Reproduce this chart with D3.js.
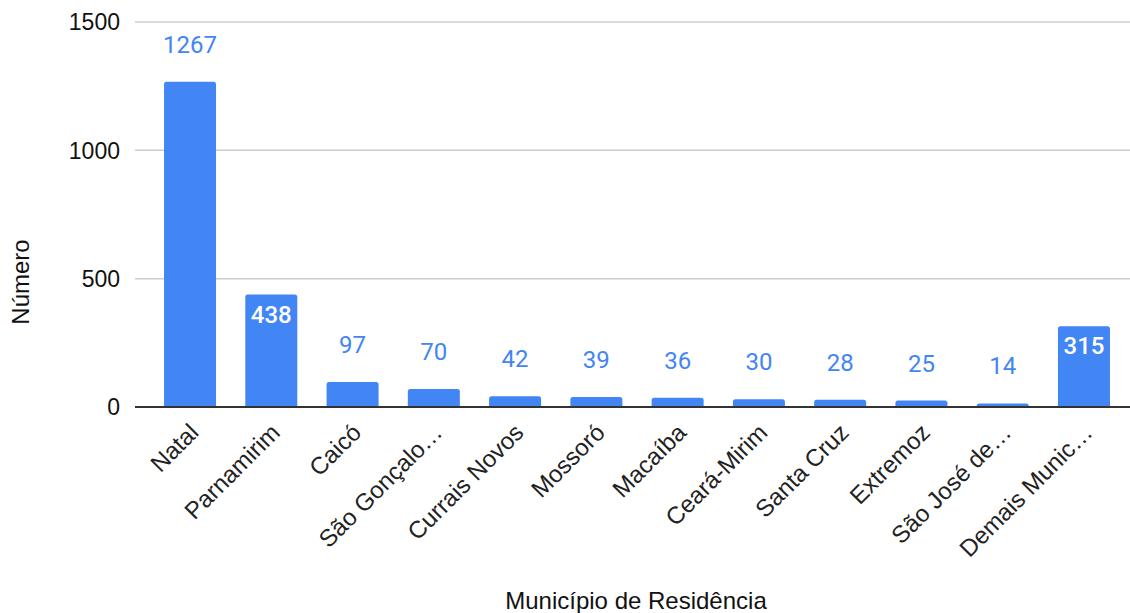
<!DOCTYPE html>
<html>
<head>
<meta charset="utf-8">
<script src="https://cdn.jsdelivr.net/npm/d3@7"></script>
<style>
  html, body { margin: 0; padding: 0; background: #fff; }
  svg { display: block; }
</style>
</head>
<body>
<svg id="chart" width="1130" height="613"></svg>
<script>
// Casos por município de residência
const municipios = [
  "Natal", "Parnamirim", "Caicó", "São Gonçalo do Amarante", "Currais Novos",
  "Mossoró", "Macaíba", "Ceará-Mirim", "Santa Cruz", "Extremoz",
  "São José de Mipibu", "Demais Municípios"
];
const rotulos = [
  "Natal", "Parnamirim", "Caicó", "São Gonçalo…", "Currais Novos",
  "Mossoró", "Macaíba", "Ceará-Mirim", "Santa Cruz", "Extremoz",
  "São José de…", "Demais Munic…"
];
const numeros = [1267, 438, 97, 70, 42, 39, 36, 30, 28, 25, 14, 315];
const yTicks = [0, 500, 1000, 1500];
// bars whose value label is drawn inside the bar
const rotuloInterno = ["Parnamirim", "Demais Municípios"];

const data = municipios.map((m, i) => ({ nome: m, rotulo: rotulos[i], valor: numeros[i] }));

const svg = d3.select("#chart");
const plotLeft = 135, plotRight = 1130, plotTop = 22, plotBottom = 407;
const sans = "Liberation Sans, Arial, Helvetica, sans-serif";

const x = d3.scaleBand()
  .domain(municipios)
  .range([149.4, 1124.6])
  .paddingInner(0.36)
  .paddingOuter(0.18);

const y = d3.scaleLinear().domain([0, 1500]).range([plotBottom, plotTop]);

// gridlines
svg.append("g")
  .selectAll("line")
  .data(yTicks.filter(t => t > 0))
  .join("line")
  .attr("x1", plotLeft).attr("x2", plotRight)
  .attr("y1", d => y(d)).attr("y2", d => y(d))
  .attr("stroke", "#cccccc").attr("stroke-width", 1.5);

// y tick labels
svg.append("g")
  .selectAll("text")
  .data(yTicks)
  .join("text")
  .attr("x", 120)
  .attr("y", d => y(d))
  .attr("dy", "0.36em")
  .attr("text-anchor", "end")
  .attr("font-family", sans)
  .attr("font-size", 23)
  .attr("fill", "#111")
  .text(d => d);

// bars with rounded top corners
const r = 2.5;
function barPath(d) {
  const x0 = x(d.nome), w = x.bandwidth(), y0 = y(d.valor), yb = y(0);
  const rr = Math.min(r, (yb - y0));
  return `M${x0},${yb} L${x0},${y0 + rr} Q${x0},${y0} ${x0 + rr},${y0} ` +
         `L${x0 + w - rr},${y0} Q${x0 + w},${y0} ${x0 + w},${y0 + rr} L${x0 + w},${yb} Z`;
}
svg.append("g")
  .selectAll("path")
  .data(data)
  .join("path")
  .attr("d", barPath)
  .attr("fill", "#4285f4");

// baseline
svg.append("line")
  .attr("x1", plotLeft).attr("x2", plotRight)
  .attr("y1", y(0)).attr("y2", y(0))
  .attr("stroke", "#333333").attr("stroke-width", 2);

// value labels
svg.append("g")
  .selectAll("text")
  .data(data)
  .join("text")
  .attr("x", d => x(d.nome) + x.bandwidth() / 2)
  .attr("y", d => rotuloInterno.includes(d.nome) ? y(d.valor) + 28 : y(d.valor) - 29)
  .attr("text-anchor", "middle")
  .attr("font-family", "Roboto, sans-serif")
  .attr("font-size", 24)
  .attr("font-weight", d => rotuloInterno.includes(d.nome) ? 500 : 400)
  .attr("fill", d => rotuloInterno.includes(d.nome) ? "#ffffff" : "#4285f4")
  .text(d => d.valor);

// category labels, rotated
svg.append("g")
  .selectAll("text")
  .data(data)
  .join("text")
  .attr("transform", d => `translate(${x(d.nome) + x.bandwidth() / 2 + 10},${plotBottom + 27}) rotate(-45)`)
  .attr("text-anchor", "end")
  .attr("font-family", sans)
  .attr("font-size", 24)
  .attr("fill", "#222")
  .text(d => d.rotulo);

// axis titles
svg.append("text")
  .attr("x", 636).attr("y", 609)
  .attr("text-anchor", "middle")
  .attr("font-family", sans)
  .attr("font-size", 24)
  .attr("fill", "#111")
  .text("Município de Residência");

svg.append("text")
  .attr("transform", "translate(29,282) rotate(-90)")
  .attr("text-anchor", "middle")
  .attr("font-family", sans)
  .attr("font-size", 24)
  .attr("fill", "#111")
  .text("Número");
</script>
</body>
</html>
